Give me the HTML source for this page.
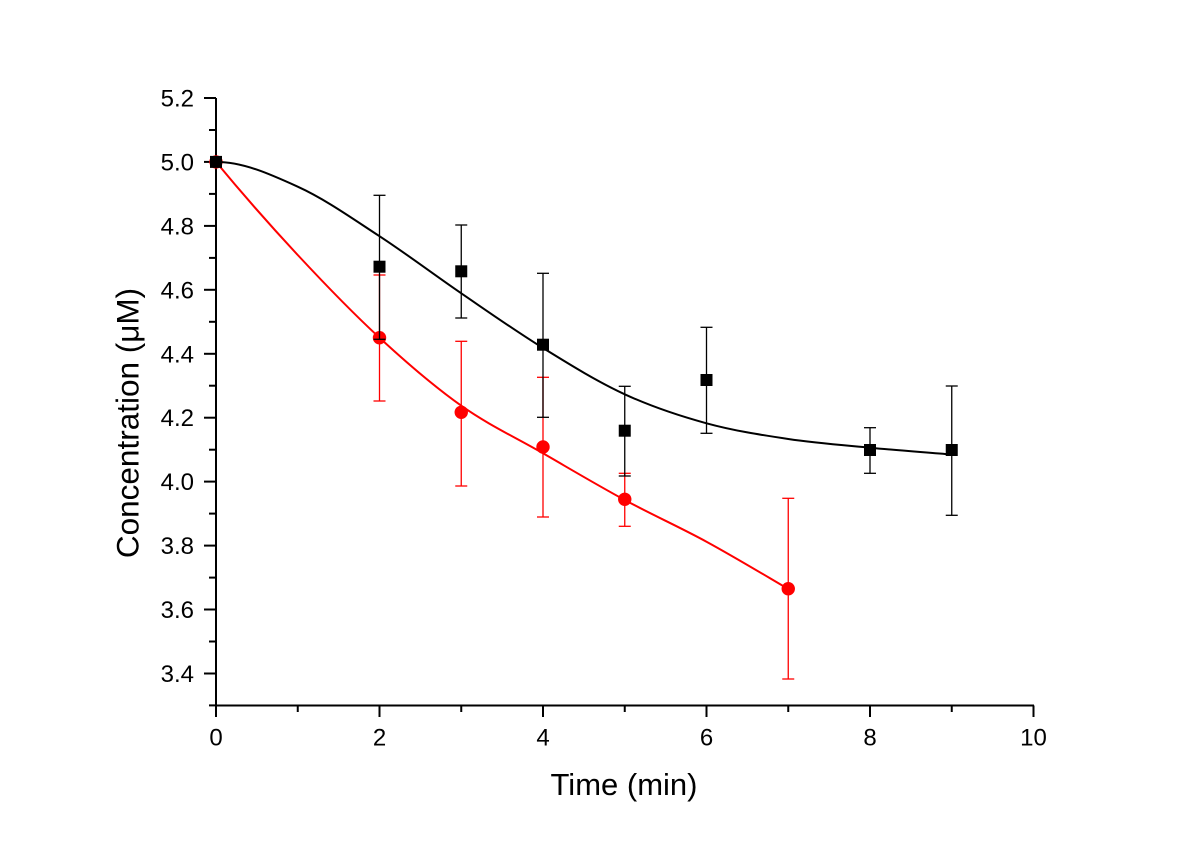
<!DOCTYPE html>
<html>
<head>
<meta charset="utf-8">
<style>
  html, body { margin: 0; padding: 0; background: #fff; }
  svg { display: block; }
  text { font-family: "Liberation Sans", Arial, sans-serif; fill: #000; }
</style>
</head>
<body>
<svg width="1200" height="846" viewBox="0 0 1200 846" xmlns="http://www.w3.org/2000/svg">
  <rect x="0" y="0" width="1200" height="846" fill="#fff"/>

  <!-- Axes -->
  <g stroke="#000" stroke-width="2" fill="none">
    <line x1="216" y1="98" x2="216" y2="706.5"/>
    <line x1="215" y1="705.5" x2="1034" y2="705.5"/>
    <!-- Y major ticks -->
    <line x1="204" y1="98" x2="216" y2="98"/>
    <line x1="204" y1="161.9" x2="216" y2="161.9"/>
    <line x1="204" y1="225.9" x2="216" y2="225.9"/>
    <line x1="204" y1="289.8" x2="216" y2="289.8"/>
    <line x1="204" y1="353.8" x2="216" y2="353.8"/>
    <line x1="204" y1="417.7" x2="216" y2="417.7"/>
    <line x1="204" y1="481.6" x2="216" y2="481.6"/>
    <line x1="204" y1="545.6" x2="216" y2="545.6"/>
    <line x1="204" y1="609.5" x2="216" y2="609.5"/>
    <line x1="204" y1="673.5" x2="216" y2="673.5"/>
    <!-- Y minor ticks -->
    <line x1="209" y1="130" x2="216" y2="130"/>
    <line x1="209" y1="193.9" x2="216" y2="193.9"/>
    <line x1="209" y1="257.9" x2="216" y2="257.9"/>
    <line x1="209" y1="321.8" x2="216" y2="321.8"/>
    <line x1="209" y1="385.7" x2="216" y2="385.7"/>
    <line x1="209" y1="449.7" x2="216" y2="449.7"/>
    <line x1="209" y1="513.6" x2="216" y2="513.6"/>
    <line x1="209" y1="577.6" x2="216" y2="577.6"/>
    <line x1="209" y1="641.5" x2="216" y2="641.5"/>
    <line x1="209" y1="705.4" x2="216" y2="705.4"/>
    <!-- X major ticks -->
    <line x1="216" y1="705.5" x2="216" y2="717"/>
    <line x1="379.5" y1="705.5" x2="379.5" y2="717"/>
    <line x1="543" y1="705.5" x2="543" y2="717"/>
    <line x1="706.5" y1="705.5" x2="706.5" y2="717"/>
    <line x1="870" y1="705.5" x2="870" y2="717"/>
    <line x1="1033.5" y1="705.5" x2="1033.5" y2="717"/>
    <!-- X minor ticks -->
    <line x1="297.75" y1="705.5" x2="297.75" y2="712"/>
    <line x1="461.25" y1="705.5" x2="461.25" y2="712"/>
    <line x1="624.75" y1="705.5" x2="624.75" y2="712"/>
    <line x1="788.25" y1="705.5" x2="788.25" y2="712"/>
    <line x1="951.75" y1="705.5" x2="951.75" y2="712"/>
  </g>

  <!-- Y tick labels -->
  <g font-size="24" text-anchor="end">
    <text x="194" y="106.5">5.2</text>
    <text x="194" y="170.4">5.0</text>
    <text x="194" y="234.4">4.8</text>
    <text x="194" y="298.3">4.6</text>
    <text x="194" y="362.3">4.4</text>
    <text x="194" y="426.2">4.2</text>
    <text x="194" y="490.1">4.0</text>
    <text x="194" y="554.1">3.8</text>
    <text x="194" y="618">3.6</text>
    <text x="194" y="682">3.4</text>
  </g>

  <!-- X tick labels -->
  <g font-size="24" text-anchor="middle">
    <text x="216" y="745.5">0</text>
    <text x="379.5" y="745.5">2</text>
    <text x="543" y="745.5">4</text>
    <text x="706.5" y="745.5">6</text>
    <text x="870" y="745.5">8</text>
    <text x="1033.5" y="745.5">10</text>
  </g>

  <!-- Axis titles -->
  <text x="624" y="795" font-size="31" text-anchor="middle">Time (min)</text>
  <text transform="translate(138.5,423) rotate(-90)" font-size="31.5" text-anchor="middle">Concentration (μM)</text>

  <!-- Red series -->
  <g stroke="#ff0000" stroke-width="1.3" fill="none">
    <line x1="379.5" y1="275" x2="379.5" y2="401"/>
    <line x1="373.5" y1="275" x2="385.5" y2="275"/>
    <line x1="373.5" y1="401" x2="385.5" y2="401"/>

    <line x1="461.25" y1="341.3" x2="461.25" y2="486"/>
    <line x1="455.25" y1="341.3" x2="467.25" y2="341.3"/>
    <line x1="455.25" y1="486" x2="467.25" y2="486"/>

    <line x1="543" y1="377.3" x2="543" y2="517"/>
    <line x1="537" y1="377.3" x2="549" y2="377.3"/>
    <line x1="537" y1="517" x2="549" y2="517"/>

    <line x1="624.75" y1="473.3" x2="624.75" y2="526.3"/>
    <line x1="618.75" y1="473.3" x2="630.75" y2="473.3"/>
    <line x1="618.75" y1="526.3" x2="630.75" y2="526.3"/>

    <line x1="788.25" y1="498.3" x2="788.25" y2="679"/>
    <line x1="782.25" y1="498.3" x2="794.25" y2="498.3"/>
    <line x1="782.25" y1="679" x2="794.25" y2="679"/>
  </g>
  <path d="M216,161.9 C243.25,194.9 270.5,225.7 297.75,255 C325,284.3 352.25,312.58 379.5,337.7 C406.75,362.82 434,386.43 461.25,405.7 C488.5,424.97 515.75,437.58 543,453.3 C570.25,469.02 597.5,485.27 624.75,500 C652,514.73 679.25,526.87 706.5,541.7 C733.75,556.53 761,573 788.25,589" stroke="#ff0000" stroke-width="2" fill="none"/>
  <g fill="#ff0000">
    <circle cx="216" cy="161.9" r="6.7"/>
    <circle cx="379.5" cy="337.7" r="6.7"/>
    <circle cx="461.25" cy="412.3" r="6.7"/>
    <circle cx="543" cy="447" r="6.7"/>
    <circle cx="624.75" cy="499.3" r="6.7"/>
    <circle cx="788.25" cy="588.7" r="6.7"/>
  </g>

  <!-- Black series -->
  <g stroke="#000" stroke-width="1.3" fill="none">
    <line x1="379.5" y1="195.3" x2="379.5" y2="339.3"/>
    <line x1="373.5" y1="195.3" x2="385.5" y2="195.3"/>
    <line x1="373.5" y1="339.3" x2="385.5" y2="339.3"/>

    <line x1="461.25" y1="225" x2="461.25" y2="318"/>
    <line x1="455.25" y1="225" x2="467.25" y2="225"/>
    <line x1="455.25" y1="318" x2="467.25" y2="318"/>

    <line x1="543" y1="273.3" x2="543" y2="417.3"/>
    <line x1="537" y1="273.3" x2="549" y2="273.3"/>
    <line x1="537" y1="417.3" x2="549" y2="417.3"/>

    <line x1="624.75" y1="386.3" x2="624.75" y2="476"/>
    <line x1="618.75" y1="386.3" x2="630.75" y2="386.3"/>
    <line x1="618.75" y1="476" x2="630.75" y2="476"/>

    <line x1="706.5" y1="327.3" x2="706.5" y2="433.3"/>
    <line x1="700.5" y1="327.3" x2="712.5" y2="327.3"/>
    <line x1="700.5" y1="433.3" x2="712.5" y2="433.3"/>

    <line x1="870" y1="427.7" x2="870" y2="473.3"/>
    <line x1="864" y1="427.7" x2="876" y2="427.7"/>
    <line x1="864" y1="473.3" x2="876" y2="473.3"/>

    <line x1="951.75" y1="386" x2="951.75" y2="515.3"/>
    <line x1="945.75" y1="386" x2="957.75" y2="386"/>
    <line x1="945.75" y1="515.3" x2="957.75" y2="515.3"/>
  </g>
  <path d="M216,161.9 C243.25,161.9 270.5,174.32 297.75,186.7 C325,199.08 352.25,218.43 379.5,236.2 C406.75,253.97 434,274.67 461.25,293.3 C488.5,311.93 515.75,331.17 543,348 C570.25,364.83 597.5,381.75 624.75,394.3 C652,406.85 679.25,415.85 706.5,423.3 C733.75,430.75 761,434.93 788.25,439 C815.5,443.07 842.75,445.12 870,447.7 C897.25,450.28 924.5,452.2 951.75,454.5" stroke="#000" stroke-width="2" fill="none"/>
  <g fill="#000">
    <rect x="210" y="155.9" width="12" height="12"/>
    <rect x="373.5" y="260.7" width="12" height="12"/>
    <rect x="455.25" y="265.3" width="12" height="12"/>
    <rect x="537" y="338.7" width="12" height="12"/>
    <rect x="618.75" y="424.7" width="12" height="12"/>
    <rect x="700.5" y="374" width="12" height="12"/>
    <rect x="864" y="444" width="12" height="12"/>
    <rect x="945.75" y="444" width="12" height="12"/>
  </g>
</svg>
</body>
</html>
